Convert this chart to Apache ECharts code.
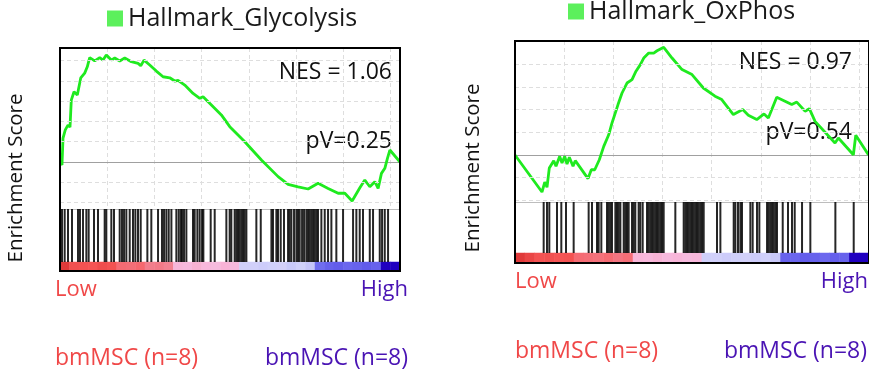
<!DOCTYPE html>
<html>
<head>
<meta charset="utf-8">
<script src="https://cdn.jsdelivr.net/npm/echarts@6.0.0/dist/echarts.min.js"></script>
<style>
  html, body { margin: 0; padding: 0; background: #fff; }
  #myChart { width: 869px; height: 372px; }
</style>
</head>
<body>
<div id="myChart"></div>
<script>
// ---- data ----
const geneCount = 7200;
const gridTicks = [-0.2, -0.1, 0.1, 0.2, 0.3, 0.4, 0.5];

// Hallmark_Glycolysis
const glyRank = [0, 42, 64, 112, 169, 212, 239, 297, 367, 439, 523, 578, 629, 735, 841, 911, 981, 1087, 1159, 1265,
  1371, 1511, 1653, 1710, 1780, 1900, 2040, 2182, 2324, 2430, 2500, 2642, 2818, 2960, 3030, 3206, 3417, 3595, 3913, 4265,
  4619, 4831, 5042, 5254, 5466, 5678, 5890, 6032, 6186, 6350, 6455, 6561, 6667, 6737, 6807, 6879, 6934, 6985, 7200];
const glyES = [0, -0.015, 0.118, 0.158, 0.182, 0.172, 0.305, 0.346, 0.330, 0.414, 0.438, 0.469, 0.514, 0.498, 0.514, 0.502, 0.527, 0.502, 0.512, 0.498,
  0.512, 0.494, 0.486, 0.474, 0.502, 0.478, 0.448, 0.420, 0.415, 0.399, 0.402, 0.379, 0.338, 0.314, 0.322, 0.281, 0.232, 0.174, 0.100, 0.010,
  -0.072, -0.110, -0.122, -0.133, -0.105, -0.130, -0.154, -0.154, -0.192, -0.127, -0.089, -0.122, -0.097, -0.130, -0.056, -0.031, 0.018, 0.059, 0];
const glyHits = [42, 99, 169, 254, 381, 424, 487, 558, 607, 720, 805, 946, 981, 1087, 1144, 1264, 1313, 1356, 1405, 1476,
  1546, 1596, 1652, 1709, 1850, 1934, 2076, 2160, 2203, 2252, 2302, 2359, 2464, 2514, 2556, 2584, 2626, 2676, 2817, 2852,
  2909, 2958, 3008, 3036, 3191, 3276, 3523, 3593, 3628, 3699, 3735, 3770, 3805, 3841, 3876, 3911, 3947, 4158, 4251, 4477,
  4511, 4582, 4617, 4674, 4744, 4829, 4864, 4900, 4956, 5006, 5041, 5076, 5126, 5168, 5217, 5253, 5288, 5323, 5359, 5394,
  5429, 5464, 5535, 5606, 5676, 5747, 5852, 5994, 6206, 6276, 6347, 6417, 6560, 6629, 6771, 6820, 6877, 6947];
const glyMetric = [1.0, 0.82, 0.8, 0.78, 0.84, 0.8, 0.62, 0.6, 0.64, 0.5, 0.52, 0.48, 0.26, 0.24, 0.28, 0.25, 0.22, 0.27,
  0.24, -0.25, -0.24, -0.26, -0.25, -0.22, -0.27, -0.25, -0.28, -0.55, -0.6, -0.62, -0.58, -0.6, -0.63, -0.6, -1.0, -1.0];

// Hallmark_OxPhos
const oxRank = [0, 549, 605, 651, 698, 788, 834, 909, 956, 1011, 1058, 1105, 1180, 1226, 1485, 1552, 1622, 1715, 1805, 1906,
  1973, 2095, 2177, 2278, 2380, 2461, 2549, 2618, 2720, 2822, 2889, 3025, 3194, 3397, 3600, 3831, 4068, 4205, 4441, 4632,
  4746, 4917, 5065, 5153, 5323, 5492, 5629, 5731, 5899, 5987, 6103, 6509, 6577, 6882, 6931, 7188, 7200];
const oxES = [0, -0.163, -0.119, -0.142, -0.057, -0.025, -0.050, -0.006, -0.035, -0.006, -0.040, -0.010, -0.050, -0.025, -0.104, -0.065, -0.065, -0.021, 0.038, 0.089,
  0.141, 0.222, 0.273, 0.317, 0.332, 0.369, 0.398, 0.427, 0.449, 0.449, 0.459, 0.474, 0.427, 0.376, 0.354, 0.295, 0.259, 0.244, 0.178, 0.200,
  0.175, 0.156, 0.181, 0.163, 0.254, 0.237, 0.222, 0.233, 0.193, 0.204, 0.148, 0.053, 0.075, 0.001, 0.087, 0.001, 0];
const oxHits = [583, 651, 698, 854, 942, 1037, 1193, 1498, 1566, 1668, 1702, 1756, 1871, 1906, 1939, 1973, 2041, 2075, 2109, 2143,
  2211, 2244, 2278, 2312, 2380, 2414, 2447, 2515, 2549, 2597, 2685, 2719, 2753, 2787, 2821, 2854, 2888, 2922, 2956, 2990,
  3024, 3261, 3431, 3465, 3499, 3533, 3566, 3600, 3635, 3668, 3702, 3736, 3770, 3804, 3838, 4109, 4177, 4448, 4482, 4536,
  4584, 4617, 4787, 4834, 4922, 4970, 5126, 5160, 5194, 5228, 5262, 5296, 5329, 5445, 5553, 5634, 5689, 5838, 6007, 6516, 6889];
const oxMetric = [1.0, 0.9, 0.8, 0.82, 0.78, 0.8, 0.62, 0.6, 0.58, 0.62, 0.56, 0.6, 0.26, 0.25, 0.27, 0.24, 0.26, 0.23,
  0.25, -0.25, -0.24, -0.26, -0.25, -0.23, -0.26, -0.25, -0.27, -0.6, -0.58, -0.62, -0.6, -0.57, -0.61, -0.6, -1.0, -1.0];

const panels = [
  {name: 'Hallmark_Glycolysis', rank: glyRank, es: glyES, hits: glyHits, metric: glyMetric,
    nes: 'NES = 1.06', pv: 'pV=0.25',
    left: 60, top: 48, width: 340, esH: 161, barH: 53, colH: 9, yMin: -0.2315, yMax: 0.5616,
    legend: {left: 107, top: 6}, nesPos: [392, 72], pvPos: [392, 141],
    lowPos: [55, 290], highPos: [408, 290], grpY: 358, grp2X: 408, yName: [16, 178]},
  {name: 'Hallmark_OxPhos', rank: oxRank, es: oxES, hits: oxHits, metric: oxMetric,
    nes: 'NES = 0.97', pv: 'pV=0.54',
    left: 515, top: 41, width: 354, esH: 161, barH: 51, colH: 10, yMin: -0.207, yMax: 0.502,
    legend: {left: 568, top: -1}, nesPos: [852, 62], pvPos: [852, 132],
    lowPos: [515, 282], highPos: [868, 282], grpY: 351, grp2X: 867, yName: [473, 168]}
];

const FONT = 'Open Sans';
const RED = '#f04848';
const PURPLE = '#4a14b4';
const GREEN = '#1fea1f';

let grids = [], xAxes = [], yAxes = [], series = [], legends = [], graphics = [], heatIdx = [];

function txt(str, x, y, size, color, align, rot) {
  return {
    type: 'text', x: x, y: y, rotation: rot || 0, silent: true,
    style: {text: str, fontSize: size, fontFamily: FONT, fill: color, align: align, verticalAlign: 'middle'}
  };
}

panels.forEach(function (p) {
  const g0 = grids.length;
  // enrichment score
  grids.push({left: p.left, top: p.top, width: p.width, height: p.esH, containLabel: false});
  xAxes.push({gridIndex: g0, type: 'value', min: 0, max: geneCount, interval: 1000,
    axisLine: {show: true, onZero: true, lineStyle: {color: '#a0a0a0', width: 1}},
    axisTick: {show: false}, axisLabel: {show: false},
    splitLine: {show: true, lineStyle: {color: '#dedede', type: [4, 3], width: 1}}});
  yAxes.push({gridIndex: g0, type: 'value', min: p.yMin, max: p.yMax, show: false, splitLine: {show: false}});
  // hits
  grids.push({left: p.left, top: p.top + p.esH, width: p.width, height: p.barH, containLabel: false});
  xAxes.push({gridIndex: g0 + 1, type: 'value', min: 0, max: geneCount, position: 'top',
    axisLine: {show: true, onZero: false, lineStyle: {color: '#bdbdbd', width: 1}},
    axisTick: {show: false}, axisLabel: {show: false}, splitLine: {show: false}});
  yAxes.push({gridIndex: g0 + 1, type: 'value', min: 0, max: 1, show: false});
  // ranked metric colour bar
  grids.push({left: p.left, top: p.top + p.esH + p.barH, width: p.width, height: p.colH, containLabel: false});
  xAxes.push({gridIndex: g0 + 2, type: 'category', data: p.metric.map(function (v, i) { return i; }), show: false});
  yAxes.push({gridIndex: g0 + 2, type: 'category', data: ['m'], show: false});

  series.push({
    type: 'line', xAxisIndex: g0, yAxisIndex: g0, data: [], silent: true, z: 1,
    markLine: {silent: true, symbol: ['none', 'none'], animation: false, label: {show: false},
      lineStyle: {color: '#dedede', type: [4, 3], width: 1},
      data: gridTicks.map(function (v) { return {yAxis: v}; })}
  });
  series.push({
    name: p.name, type: 'line', xAxisIndex: g0, yAxisIndex: g0, z: 3,
    data: p.rank.map(function (r, i) { return [r, p.es[i]]; }),
    showSymbol: false, color: GREEN, lineStyle: {color: GREEN, width: 2.8}, animation: false
  });
  series.push({
    type: 'bar', xAxisIndex: g0 + 1, yAxisIndex: g0 + 1, barWidth: 2, silent: true,
    data: p.hits.map(function (r) { return [r, 1]; }),
    itemStyle: {color: 'rgba(0,0,0,0.85)'}, animation: false
  });
  heatIdx.push(series.length);
  series.push({
    type: 'heatmap', xAxisIndex: g0 + 2, yAxisIndex: g0 + 2, silent: true,
    data: p.metric.map(function (v, i) { return [i, 0, v]; }), animation: false
  });

  legends.push({
    data: [{name: p.name, itemStyle: {color: '#5cf05c'}}], icon: 'rect', selectedMode: false,
    left: p.legend.left, top: p.legend.top, itemWidth: 16, itemHeight: 16, itemGap: 8, padding: 0,
    textStyle: {fontSize: 25, fontFamily: FONT, color: '#1a1a1a'}
  });

  // black frame round the whole panel
  graphics.push({
    type: 'rect', silent: true, z: 100,
    shape: {x: p.left, y: p.top, width: p.width, height: p.esH + p.barH + p.colH},
    style: {fill: 'none', stroke: '#000', lineWidth: 2}
  });
  graphics.push(txt(p.nes, p.nesPos[0], p.nesPos[1], 23, '#111', 'right'));
  graphics.push(txt(p.pv, p.pvPos[0], p.pvPos[1], 23, '#111', 'right'));
  graphics.push(txt('Low', p.lowPos[0], p.lowPos[1], 22, RED, 'left'));
  graphics.push(txt('High', p.highPos[0], p.highPos[1], 22, PURPLE, 'right'));
  graphics.push(txt('bmMSC (n=8)', p.lowPos[0], p.grpY, 23, RED, 'left'));
  graphics.push(txt('bmMSC (n=8)', p.grp2X, p.grpY, 23, PURPLE, 'right'));
  graphics.push(txt('Enrichment Score', p.yName[0], p.yName[1], 20.5, '#111', 'center', Math.PI / 2));
});

const option = {
  backgroundColor: '#fff',
  animation: false,
  grid: grids,
  xAxis: xAxes,
  yAxis: yAxes,
  legend: legends,
  visualMap: {
    type: 'continuous', show: false, min: -1, max: 1, dimension: 2, seriesIndex: heatIdx,
    inRange: {color: ['#2000c0', '#4a40e4', '#7a78f2', '#d0d0fa', '#ead0f0', '#f8b8dc', '#f27d8c', '#f85858', '#e03a3a']}
  },
  graphic: graphics,
  series: series
};

const myChart = echarts.init(document.getElementById('myChart'), null, {renderer: 'canvas'});
myChart.setOption(option);
</script>
</body>
</html>
